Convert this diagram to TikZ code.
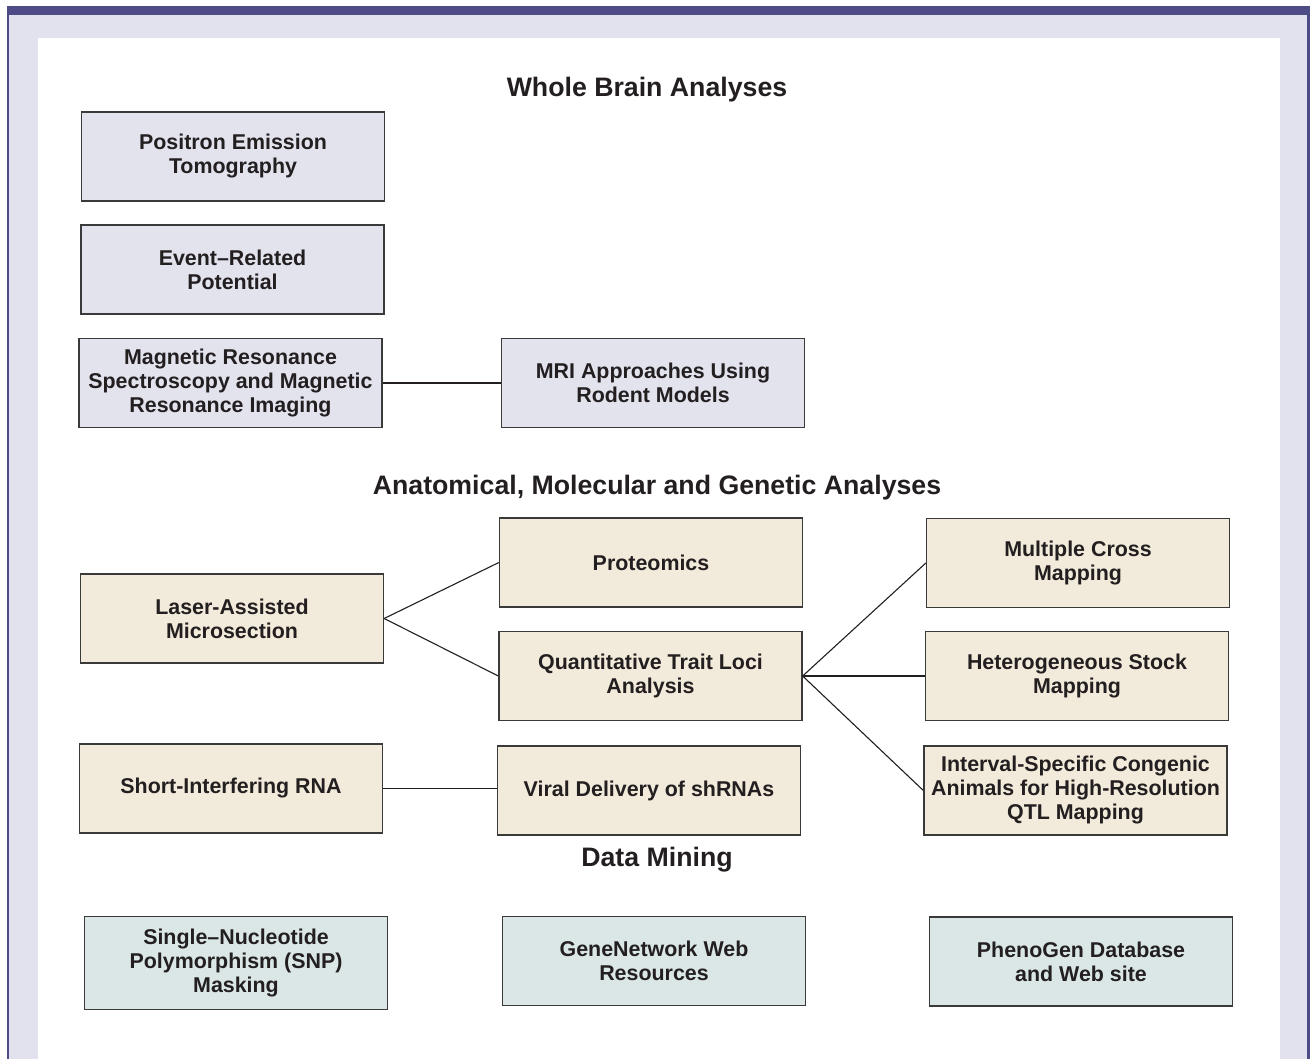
\documentclass[tikz,border=0pt]{standalone}
\usepackage{fontspec}
\setmainfont{Liberation Sans}
\usepackage{tikz}
\definecolor{bandblue}{HTML}{4E4C86}
\definecolor{framegray}{HTML}{E2E2EE}
\definecolor{brainfill}{HTML}{E3E3EE}
\definecolor{anatfill}{HTML}{F2EADA}
\definecolor{minefill}{HTML}{DAE7E6}
\definecolor{edgegray}{HTML}{3A3A3A}
\definecolor{inkdark}{HTML}{231F20}

\tikzset{
  box/.style={draw=edgegray, line width=1.3pt, minimum width=303pt, minimum height=89pt,
    align=center, inner sep=0pt, text=inkdark, font=\fontsize{21.4}{24}\selectfont\bfseries},
  brain/.style={box, fill=brainfill},
  anat/.style={box, fill=anatfill},
  mine/.style={box, fill=minefill},
  heading/.style={text=inkdark, font=\fontsize{26.7}{30}\selectfont\bfseries},
  link/.style={draw=inkdark, line width=1.1pt}
}

\begin{document}
\begin{tikzpicture}[x=1pt,y=-1pt]
        \useasboundingbox (0,0) rectangle (1313,1059);

        % Frame round the panel
        \fill[framegray] (8,15) rectangle (1307,1059);
        \fill[white] (38,38) rectangle (1280,1059);
        \fill[bandblue] (7,6) rectangle (1310,15);
        \fill[bandblue] (7,6) rectangle (8.5,1059);
        \fill[bandblue] (1307,6) rectangle (1309.5,1059);

        % Whole brain analyses
        \node[heading] (hbrain) at (647,90) {Whole Brain Analyses};
        \node[brain] (pet) at (233,156.5) {Positron Emission\\Tomography};
        \node[brain] (erp) at (232.5,269.5) {Event–Related\\Potential};
        \node[brain] (mrs) at (230.5,383) {Magnetic Resonance\\Spectroscopy and Magnetic\\Resonance Imaging};
        \node[brain] (mri) at (653,383) {MRI Approaches Using\\Rodent Models};

        % Anatomical, molecular and genetic analyses
        \node[heading] (hanat) at (657,488) {Anatomical, Molecular and Genetic Analyses};
        \node[anat] (laser) at (232,618.5) {Laser-Assisted\\Microsection};
        \node[anat] (prot) at (651,562.5) {Proteomics};
        \node[anat] (qtl) at (650.5,676) {Quantitative Trait Loci\\Analysis};
        \node[anat] (mcross) at (1078,563) {Multiple Cross\\Mapping};
        \node[anat] (hetero) at (1077,676) {Heterogeneous Stock\\Mapping};
        \node[anat] (interval) at (1075.5,790.5) {Interval-Specific Congenic\\Animals for High-Resolution\\QTL Mapping};
        \node[anat] (sirna) at (231,788.5) {Short-Interfering RNA};
        \node[anat] (viral) at (649,790.5) {Viral Delivery of shRNAs};

        % Data mining
        \node[heading] (hmine) at (657,860) {Data Mining};
        \node[mine, minimum height=93pt] (snp) at (236,963) {Single–Nucleotide\\Polymorphism (SNP)\\Masking};
        \node[mine] (genenet) at (654,961) {GeneNetwork Web\\Resources};
        \node[mine] (phenogen) at (1081,961.5) {PhenoGen Database\\and Web site};

        % Connectors
        \draw[link] (mrs.east) -- (mri.west);
        \draw[link] (laser.east) -- (prot.west);
        \draw[link] (laser.east) -- (qtl.west);
        \draw[link] (qtl.east) -- (mcross.west);
        \draw[link] (qtl.east) -- (hetero.west);
        \draw[link] (qtl.east) -- (interval.west);
        \draw[link] (sirna.east) -- (sirna.east -| viral.west);
\end{tikzpicture}
\end{document}
